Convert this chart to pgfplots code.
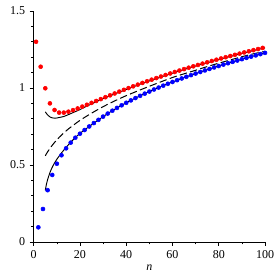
\documentclass[border=0pt]{standalone}
\usepackage{pgfplots}
\pgfplotsset{compat=1.18}
\usepackage{fontspec}
\setmainfont{Liberation Serif}
\begin{document}
\begin{tikzpicture}
\useasboundingbox (-25.3pt,-26.25pt) rectangle (182.5pt,181.5pt);
\begin{axis}[
  at={(0pt,0pt)}, anchor=south west,
  scale only axis, width=173.5pt, height=173.25pt,
  xmin=0, xmax=100, ymin=0, ymax=1.5,
  axis lines=left, axis line style={-, line width=0.6pt},
  xtick={0,20,...,100}, ytick={0,0.5,1,1.5},
  minor x tick num=1, minor y tick num=4,
  tick align=outside, major tick length=3pt, minor tick length=1.8pt,
  tick style={black, line width=0.5pt},
  ticklabel style={font=\fontsize{9}{10}\selectfont},
  /pgf/number format/assume math mode=true,
  xlabel={\textit{n}}, xlabel style={font=\fontsize{9}{10}\selectfont, yshift=2pt},
  clip=false,
]
% dashed curve
\addplot[black, line width=0.75pt, dash pattern=on 5.5pt off 2.5pt, smooth] coordinates {
(5,0.5595)(6,0.5851)(8,0.6278)(10,0.6633)(12,0.694)(15,0.7339)(20,0.7895)(25,0.8363)(30,0.8785)(35,0.916)(40,0.950)(45,0.981)(50,1.011)(55,1.040)(60,1.068)(65,1.092)(70,1.115)(75,1.139)(80,1.161)(85,1.182)(90,1.203)(95,1.222)(100,1.238)};
% upper solid
\addplot[black, line width=0.7pt, smooth] coordinates {
(5,0.845)(6,0.825)(7,0.812)(8,0.806)(9,0.804)(10,0.805)(11,0.808)(13,0.815)(15,0.827)(17,0.84)(19,0.853)(21,0.867)(23,0.882)(25,0.896)(27,0.911)(31,0.937)(35,0.961)(41,0.996)(47,1.030)(53,1.061)(59,1.091)(65,1.120)(71,1.147)(77,1.172)(83,1.197)(89,1.220)(95,1.243)(100,1.261)};
% lower solid
\addplot[black, line width=0.7pt, smooth] coordinates {
(5,0.335)(5.5,0.375)(6,0.405)(7,0.45)(8,0.485)(9,0.513)(10,0.537)(12,0.578)(14,0.614)(16,0.648)(18,0.678)(20,0.705)(22,0.728)(24,0.75)(28,0.7932)(32,0.8338)(36,0.8704)(40,0.9038)(46,0.9491)(52,0.99)(58,1.0273)(64,1.0617)(70,1.0936)(76,1.1236)(82,1.1518)(88,1.1783)(94,1.2036)(100,1.2278)};
% red dots
\addplot[only marks, mark=*, mark size=1.5pt, color=red, mark options={draw=red, fill=red}] coordinates {
(1,1.30)(3,1.138)(5,0.998)(7,0.90)(9,0.857)(11,0.84)(13,0.84)(15,0.846)(17,0.856)(19,0.867)(21,0.879)(23,0.891)(25,0.9034)(27,0.9155)(29,0.9277)(31,0.94)(33,0.9522)(35,0.9643)(37,0.9763)(39,0.988)(41,0.9994)(43,1.0107)(45,1.0218)(47,1.0328)(49,1.0435)(51,1.054)(53,1.0643)(55,1.0744)(57,1.0844)(59,1.0942)(61,1.1038)(63,1.1132)(65,1.1226)(67,1.1317)(69,1.1407)(71,1.1495)(73,1.1582)(75,1.1667)(77,1.1752)(79,1.1835)(81,1.1916)(83,1.1997)(85,1.2076)(87,1.2154)(89,1.2231)(91,1.2308)(93,1.2382)(95,1.2456)(97,1.2529)(99,1.2602)};
% blue dots
\addplot[only marks, mark=*, mark size=1.5pt, color=blue, mark options={draw=blue, fill=blue}] coordinates {
(2,0.095)(4,0.214)(6,0.336)(8,0.435)(10,0.508)(12,0.563)(14,0.608)(16,0.645)(18,0.677)(20,0.703)(22,0.727)(24,0.75)(26,0.772)(28,0.7932)(30,0.814)(32,0.8338)(34,0.8524)(36,0.8704)(38,0.8875)(40,0.9038)(42,0.9194)(44,0.9345)(46,0.9491)(48,0.9632)(50,0.9768)(52,0.99)(54,1.0027)(56,1.0151)(58,1.0273)(60,1.039)(62,1.0505)(64,1.0617)(66,1.0727)(68,1.0833)(70,1.0936)(72,1.1039)(74,1.1138)(76,1.1236)(78,1.1332)(80,1.1425)(82,1.1518)(84,1.1608)(86,1.1696)(88,1.1783)(90,1.187)(92,1.1954)(94,1.2036)(96,1.2117)(98,1.2198)(100,1.2278)};
\end{axis}
\end{tikzpicture}
\end{document}
